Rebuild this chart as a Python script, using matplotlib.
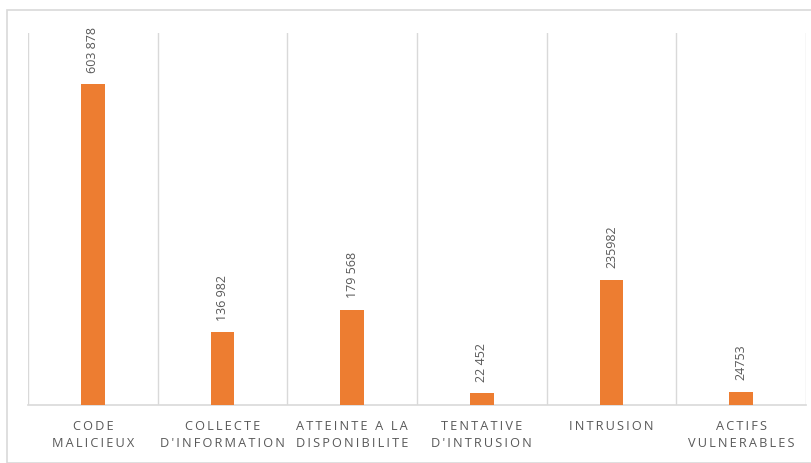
import matplotlib.pyplot as plt
from matplotlib.patches import Rectangle

categories = ["CODE\nMALICIEUX", "COLLECTE\nD'INFORMATION", "ATTEINTE A LA\nDISPONIBILITE",
              "TENTATIVE\nD'INTRUSION", "INTRUSION", "ACTIFS\nVULNERABLES"]
values = [603878, 136982, 179568, 22452, 235982, 24753]
value_labels = ["603 878", "136 982", "179 568", "22 452", "235982", "24753"]

plt.rcParams['font.family'] = ['Open Sans', 'DejaVu Sans']


def spaced(s):
    # letter spacing like the original
    return "\n".join("\u2009".join(line) for line in s.split("\n"))


fig = plt.figure(figsize=(8.11, 4.64), dpi=100)
ax = fig.add_axes([28 / 811, 1 - 406 / 464, (806 - 28) / 811, (406 - 34) / 464])

x = range(len(values))
ax.bar(x, values, width=0.185, color='#ED7D31', zorder=3)
ax.set_xlim(-0.5, len(values) - 0.5)
ax.set_ylim(0, 700000)

for i, (v, lab) in enumerate(zip(values, value_labels)):
    ax.annotate(lab, (i, v), xytext=(0, 9), textcoords='offset points',
                rotation=90, ha='center', va='bottom', fontsize=9, color='#595959')

for b in [i - 0.5 for i in range(len(values) + 1)]:
    ax.axvline(b, color='#D9D9D9', linewidth=1, zorder=1)

ax.set_yticks([])
ax.set_xticks(list(x))
ax.set_xticklabels([spaced(c) for c in categories], fontsize=9.2, color='#595959', linespacing=1.4)
ax.tick_params(axis='x', length=0, pad=10)
for s in ['top', 'left', 'right']:
    ax.spines[s].set_visible(False)
ax.spines['bottom'].set_color('#D9D9D9')
ax.spines['bottom'].set_linewidth(1.2)

fig.patches.append(Rectangle((7 / 811, 0.5 / 464), 1, 1 - 11.5 / 464, transform=fig.transFigure,
                             fill=False, edgecolor='#D9D9D9', linewidth=1.2))

fig.savefig('out.png', dpi=100)
